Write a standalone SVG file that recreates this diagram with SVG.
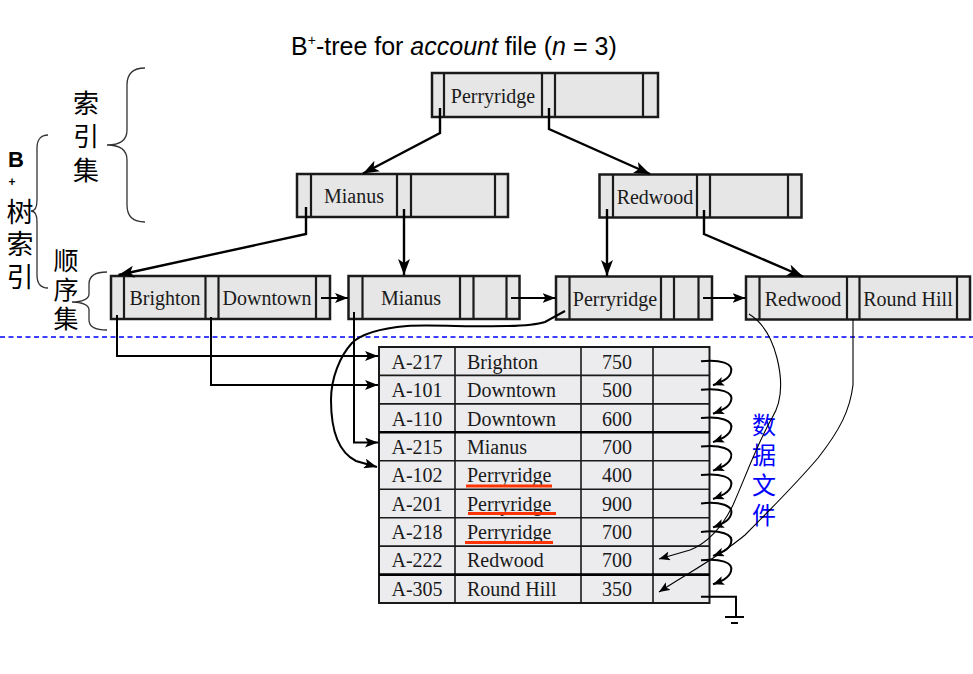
<svg xmlns="http://www.w3.org/2000/svg" width="973" height="674" viewBox="0 0 973 674">
<style>
.nd{fill:#e6e6e6;stroke:#1a1a1a;stroke-width:2.5}
.dv{stroke:#1a1a1a;stroke-width:2.2}
.kt{font-family:"Liberation Serif",serif;font-size:20px;fill:#1a1a1a;text-anchor:middle}
.tt{font-family:"Liberation Serif",serif;font-size:20px;fill:#1a1a1a}
.c{text-anchor:middle}
.cn{fill:none;stroke:#000;stroke-width:2.4}
.cm{fill:none;stroke:#000;stroke-width:2}
.th{fill:none;stroke:#000;stroke-width:1.1}
.br{fill:none;stroke:#333;stroke-width:1.3}
.vt{font-family:"Noto Sans CJK SC",sans-serif;writing-mode:vertical-rl;text-orientation:upright}
.row{stroke:#1a1a1a;stroke-width:1.6}
.ul{stroke:#ff3300;stroke-width:3}
</style>
<defs>
<marker id="a" markerUnits="userSpaceOnUse" markerWidth="16" markerHeight="12" viewBox="0 0 16 12" refX="16" refY="6" orient="auto"><path d="M0,0 L16,6 L0,12 L4,6 z" fill="#000"/></marker>
<marker id="m" markerUnits="userSpaceOnUse" markerWidth="13" markerHeight="10" viewBox="0 0 13 10" refX="13" refY="5" orient="auto"><path d="M0,0 L13,5 L0,10 L3,5 z" fill="#000"/></marker>
<marker id="s" markerUnits="userSpaceOnUse" markerWidth="11" markerHeight="9" viewBox="0 0 11 9" refX="11" refY="4.5" orient="auto"><path d="M0,0 L11,4.5 L0,9 L2.5,4.5 z" fill="#000"/></marker>
</defs>
<rect width="973" height="674" fill="#fff"/>

<text x="291" y="55" font-family="Liberation Sans,Arial,sans-serif" font-size="25" fill="#000">B<tspan font-size="14" dy="-10">+</tspan><tspan dy="10">-tree for </tspan><tspan font-style="italic">account</tspan> file (<tspan font-style="italic">n</tspan> = 3)</text>

<g id="labels">
<path class="br" d="M145,68 C132,68 127,74 127,85 L127,130 C127,140 120,145 107,145 C120,145 127,150 127,160 L127,205 C127,216 132,222 145,222"/>
<path class="br" d="M48,135 C41,135 37,140 37,148 L37,200 C37,207 35,211 31,211 C35,211 37,215 37,222 L37,275 C37,284 41,288 48,288"/>
<path class="br" d="M107,272 C95,272 89,276 89,284 L89,294 C89,299 82,302 72,302 C82,302 89,305 89,310 L89,320 C89,327 95,330 107,330"/>
<text class="vt" x="86" y="90" font-size="26" letter-spacing="7.5">索引集</text>
<text font-family="Liberation Sans,Arial,sans-serif" font-weight="bold" text-anchor="middle"><tspan x="16" y="167" font-size="22">B</tspan><tspan x="12" y="186" font-size="12">+</tspan></text>
<text class="vt" x="20" y="198" font-size="27" letter-spacing="5.5">树索引</text>
<text class="vt" x="66" y="248" font-size="25" letter-spacing="4">顺序集</text>
<text class="vt" x="764" y="413" font-size="24" letter-spacing="6" fill="#0000ff">数据文件</text>
</g>

<path d="M0,337 H973" stroke="#0000ff" stroke-width="1.4" stroke-dasharray="5,3.5" fill="none"/>

<g id="root">
<rect class="nd" x="432" y="73" width="226" height="44"/>
<path class="dv" d="M444,73V117M542,73V117M555,73V117M643,73V117"/>
<text class="kt" x="493" y="103">Perryridge</text>
</g>
<g id="int-mianus">
<rect class="nd" x="297" y="174" width="211" height="43"/>
<path class="dv" d="M311,174V217M397,174V217M411,174V217M495,174V217"/>
<text class="kt" x="354" y="203">Mianus</text>
</g>
<g id="int-redwood">
<rect class="nd" x="599.5" y="174.5" width="202" height="43"/>
<path class="dv" d="M613,174.5V217.5M697,174.5V217.5M710,174.5V217.5M788,174.5V217.5"/>
<text class="kt" x="655" y="204">Redwood</text>
</g>
<g id="leaf-1">
<rect class="nd" x="111" y="276" width="219" height="43"/>
<path class="dv" d="M124,276V319M205.5,276V319M218.5,276V319M316,276V319"/>
<text class="kt" x="165" y="305">Brighton</text>
<text class="kt" x="267" y="305">Downtown</text>
</g>
<g id="leaf-2">
<rect class="nd" x="348.5" y="276" width="171" height="43"/>
<path class="dv" d="M362.5,276V319M460,276V319M473.5,276V319M506.5,276V319"/>
<text class="kt" x="411" y="305">Mianus</text>
</g>
<g id="leaf-3">
<rect class="nd" x="556" y="276.5" width="156" height="43"/>
<path class="dv" d="M569.5,276.5V319.5M661,276.5V319.5M674,276.5V319.5M698.5,276.5V319.5"/>
<text class="kt" x="615" y="306">Perryridge</text>
</g>
<g id="leaf-4">
<rect class="nd" x="746" y="276.5" width="224" height="43"/>
<path class="dv" d="M759.5,276.5V319.5M847,276.5V319.5M859.5,276.5V319.5M957,276.5V319.5"/>
<text class="kt" x="803" y="306">Redwood</text>
<text class="kt" x="908" y="306">Round Hill</text>
</g>

<g id="file">
<rect x="379" y="347" width="330.5" height="256" fill="#ececef" stroke="#1a1a1a" stroke-width="2"/>
<path class="row" d="M455,347V603M581,347V603M653,347V603"/>
<path class="row" d="M379,375.4H709.5M379,403.9H709.5M379,460.8H709.5M379,489.2H709.5M379,517.7H709.5M379,546.1H709.5"/>
<path stroke="#000" stroke-width="2.6" d="M379,432.3H709.5M379,574.6H709.5"/>
<g class="tt">
<text class="c" x="417" y="369">A-217</text><text x="467" y="369">Brighton</text><text class="c" x="617" y="369">750</text>
<text class="c" x="417" y="397">A-101</text><text x="467" y="397">Downtown</text><text class="c" x="617" y="397">500</text>
<text class="c" x="417" y="426">A-110</text><text x="467" y="426">Downtown</text><text class="c" x="617" y="426">600</text>
<text class="c" x="417" y="454">A-215</text><text x="467" y="454">Mianus</text><text class="c" x="617" y="454">700</text>
<text class="c" x="417" y="482">A-102</text><text x="467" y="482">Perryridge</text><text class="c" x="617" y="482">400</text>
<text class="c" x="417" y="511">A-201</text><text x="467" y="511">Perryridge</text><text class="c" x="617" y="511">900</text>
<text class="c" x="417" y="539">A-218</text><text x="467" y="539">Perryridge</text><text class="c" x="617" y="539">700</text>
<text class="c" x="417" y="567">A-222</text><text x="467" y="567">Redwood</text><text class="c" x="617" y="567">700</text>
<text class="c" x="417" y="596">A-305</text><text x="467" y="596">Round Hill</text><text class="c" x="617" y="596">350</text>
</g>
<path class="ul" d="M466,486H552M468,513.5H556M465,542.5H553"/>
</g>

<g id="connectors">
<path class="cn" marker-end="url(#a)" d="M440,108V133L363,173.5"/>
<path class="cn" marker-end="url(#a)" d="M549,108V129L650,174"/>
<path class="cn" marker-end="url(#a)" d="M306,207V234L118.5,275"/>
<path class="cn" marker-end="url(#a)" d="M404,209V275"/>
<path class="cn" marker-end="url(#a)" d="M607,209V276"/>
<path class="cn" marker-end="url(#a)" d="M704,210V234L803,276.5"/>
<path class="cm" marker-end="url(#m)" d="M321,298H348"/>
<path class="cm" marker-end="url(#m)" d="M511,298H555.5"/>
<path class="cm" marker-end="url(#m)" d="M703,298H745.5"/>
<path class="cm" marker-end="url(#m)" d="M117,315V356H378"/>
<path class="cm" marker-end="url(#m)" d="M211,317V385H378"/>
<path class="cm" marker-end="url(#m)" d="M354,312V442.5H378"/>
<path class="cm" marker-end="url(#m)" d="M565,311L545,322C520,330 440,324 407,326C385,328 362,333 352,343C340,356 331,378 331,400C331,428 338,452 356,461L377,467"/>
<path class="th" marker-end="url(#s)" d="M749,314C762,322 772,338 777,358C783,382 782,402 772,418C758,442 745,478 733,505C722,528 706,544 690,550L659,559"/>
<path class="th" marker-end="url(#s)" d="M853,319V385C850,410 840,430 818,458C795,485 770,510 745,535C720,556 690,572 659,592"/>
<path class="cm" marker-end="url(#s)" d="M701,361.2C720,359.2 734,363.2 731,372.2C729,379.2 721,382.2 713,385.2"/>
<path class="cm" marker-end="url(#s)" d="M701,389.7C720,387.7 734,391.7 731,400.7C729,407.7 721,410.7 713,413.7"/>
<path class="cm" marker-end="url(#s)" d="M701,418.1C720,416.1 734,420.1 731,429.1C729,436.1 721,439.1 713,442.1"/>
<path class="cm" marker-end="url(#s)" d="M701,446.6C720,444.6 734,448.6 731,457.6C729,464.6 721,467.6 713,470.6"/>
<path class="cm" marker-end="url(#s)" d="M701,475C720,473 734,477 731,486C729,493 721,496 713,499"/>
<path class="cm" marker-end="url(#s)" d="M701,503.4C720,501.4 734,505.4 731,514.4C729,521.4 721,524.4 713,527.4"/>
<path class="cm" marker-end="url(#s)" d="M701,531.9C720,529.9 734,533.9 731,542.9C729,549.9 721,552.9 713,555.9"/>
<path class="cm" marker-end="url(#s)" d="M701,560.3C720,558.3 734,562.3 731,571.3C729,578.3 721,581.3 713,584.3"/>
<path class="cm" d="M701,596.7H736V617M725,617H744M731,623H738"/>
</g>
</svg>
